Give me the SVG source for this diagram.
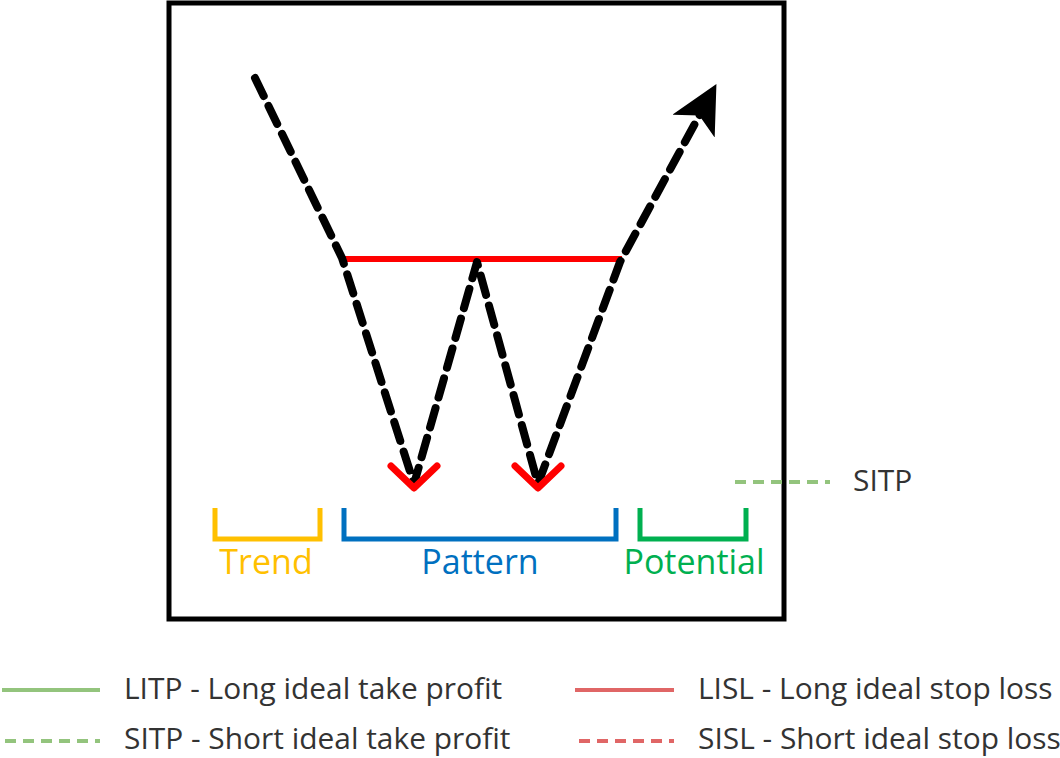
<svg xmlns="http://www.w3.org/2000/svg" width="1060" height="758" viewBox="0 0 1060 758">
<style>
text{font-family:"Open Sans","Noto Sans",sans-serif}
.lg{font-size:29.9px;fill:#333}
.br{fill:none;stroke-width:5}
.bl{font-size:34px}
</style>
<defs>
<marker id="ah" markerWidth="6" markerHeight="6" refX="3" refY="3" orient="auto" markerUnits="strokeWidth"><path d="M0,0 L6,3 L0,6 L1.5,3 Z" fill="#000"/></marker>
</defs>
<rect width="1060" height="758" fill="#fff"/>
<g id="frame"><rect x="169" y="3" width="615" height="616" fill="none" stroke="#000" stroke-width="5"/></g>
<g id="stoploss"><line x1="342" y1="259" x2="622" y2="259" stroke="#ff0000" stroke-width="6"/></g>
<g id="connectors">
<path d="M255,78 L342,258 L414,484 L477,262 L538,484 L620,262 L705,105" fill="none" stroke="#000" stroke-width="8" stroke-dasharray="20 11" stroke-linecap="round" stroke-linejoin="round" marker-end="url(#ah)"/>
</g>
<g id="chevrons" fill="none" stroke="#ff0000" stroke-width="7" stroke-linecap="round" stroke-linejoin="round">
<polyline points="391,466 414,488 437,466"/>
<polyline points="515,466 538,488 561,466"/>
</g>
<g id="trend"><polyline class="br" stroke="#FFC000" points="215,508 215,539 320,539 320,508"/><text class="bl" x="266" y="574" fill="#FFC000" text-anchor="middle">Trend</text></g>
<g id="pattern"><polyline class="br" stroke="#0070C0" points="344,508 344,539 616,539 616,508"/><text class="bl" x="480" y="574" fill="#0070C0" text-anchor="middle">Pattern</text></g>
<g id="potential"><polyline class="br" stroke="#00B050" points="640,508 640,539 746,539 746,508"/><text class="bl" x="694" y="574" fill="#00B050" text-anchor="middle">Potential</text></g>
<g id="sitp-label"><line x1="735" y1="482" x2="830" y2="482" stroke="#93C47D" stroke-width="4" stroke-dasharray="11 7"/><text class="lg" x="853" y="491">SITP</text></g>
<g id="legend">
<line x1="2" y1="690" x2="100" y2="690" stroke="#93C47D" stroke-width="4"/><text class="lg" x="124" y="699">LITP - Long ideal take profit</text>
<line x1="5" y1="741" x2="100" y2="741" stroke="#93C47D" stroke-width="4" stroke-dasharray="11 7"/><text class="lg" x="124" y="749">SITP - Short ideal take profit</text>
<line x1="575" y1="690" x2="674" y2="690" stroke="#E06666" stroke-width="4"/><text class="lg" x="698" y="699">LISL - Long ideal stop loss</text>
<line x1="579" y1="741" x2="674" y2="741" stroke="#E06666" stroke-width="4" stroke-dasharray="11 7"/><text class="lg" x="698" y="749">SISL - Short ideal stop loss</text>
</g>
</svg>
